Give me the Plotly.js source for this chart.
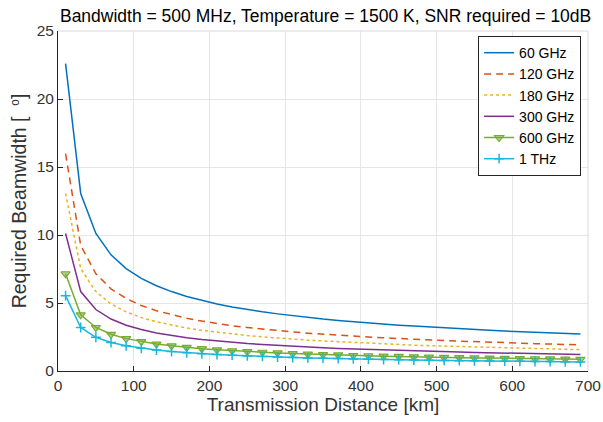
<!DOCTYPE html>
<html>
<head>
<meta charset="utf-8">
<script src="https://cdn.plot.ly/plotly-3.0.1.min.js"></script>
<style>html,body{margin:0;padding:0;background:#fff;}#chart{width:603px;height:422px;}</style>
</head>
<body>
<div id="chart"></div>
<script>
const distanceKm = [10,30,50,70,90,110,130,150,170,190,210,230,250,270,290,310,330,350,370,390,410,430,450,470,490,510,530,550,570,590,610,630,650,670,690];
const seriesNames = ["60 GHz","120 GHz","180 GHz","300 GHz","600 GHz","1 THz"];
const bw60 = [22.60,13.05,10.11,8.54,7.53,6.81,6.27,5.84,5.48,5.18,4.93,4.71,4.52,4.35,4.20,4.06,3.93,3.82,3.72,3.62,3.53,3.45,3.37,3.30,3.23,3.16,3.11,3.05,2.99,2.94,2.89,2.85,2.80,2.76,2.72];
const bw120 = [15.98,9.23,7.15,6.04,5.33,4.82,4.43,4.13,3.88,3.67,3.49,3.33,3.20,3.08,2.97,2.87,2.78,2.70,2.63,2.56,2.50,2.44,2.38,2.33,2.28,2.24,2.20,2.15,2.12,2.08,2.05,2.01,1.98,1.95,1.92];
const bw180 = [13.05,7.53,5.84,4.93,4.35,3.93,3.62,3.37,3.16,2.99,2.85,2.72,2.61,2.51,2.42,2.34,2.27,2.21,2.15,2.09,2.04,1.99,1.95,1.90,1.86,1.83,1.79,1.76,1.73,1.70,1.67,1.64,1.62,1.59,1.57];
const bw300 = [10.11,5.84,4.52,3.82,3.37,3.05,2.80,2.61,2.45,2.32,2.21,2.11,2.02,1.95,1.88,1.82,1.76,1.71,1.66,1.62,1.58,1.54,1.51,1.48,1.44,1.42,1.39,1.36,1.34,1.32,1.29,1.27,1.25,1.24,1.22];
const bw600 = [7.15,4.13,3.20,2.70,2.38,2.16,1.98,1.85,1.73,1.64,1.56,1.49,1.43,1.38,1.33,1.28,1.24,1.21,1.18,1.14,1.12,1.09,1.07,1.04,1.02,1.00,0.98,0.96,0.95,0.93,0.92,0.90,0.89,0.87,0.86];
const bw1000 = [5.54,3.20,2.48,2.09,1.85,1.67,1.54,1.43,1.34,1.27,1.21,1.16,1.11,1.07,1.03,0.99,0.96,0.94,0.91,0.89,0.87,0.84,0.83,0.81,0.79,0.78,0.76,0.75,0.73,0.72,0.71,0.70,0.69,0.68,0.67];
const xTicks = [0,100,200,300,400,500,600,700];
const yTicks = [0,5,10,15,20,25];

const FONT = '"Liberation Sans", Arial, Helvetica, sans-serif';
const traces = [
  {x: distanceKm, y: bw60, name: seriesNames[0], mode: 'lines', line: {color: '#0072BD', width: 1.5}},
  {x: distanceKm, y: bw120, name: seriesNames[1], mode: 'lines', line: {color: '#D95319', width: 1.5, dash: '7px,5px'}},
  {x: distanceKm, y: bw180, name: seriesNames[2], mode: 'lines', line: {color: '#EDB120', width: 1.5, dash: 'dot'}},
  {x: distanceKm, y: bw300, name: seriesNames[3], mode: 'lines', line: {color: '#7E2F8E', width: 1.5}},
  {x: distanceKm, y: bw600, name: seriesNames[4], mode: 'lines+markers', line: {color: '#77AC30', width: 1.5},
   marker: {symbol: 'triangle-down', size: 8, color: 'rgba(119,172,48,0.55)', line: {color: '#77AC30', width: 1.2}}},
  {x: distanceKm, y: bw1000, name: seriesNames[5], mode: 'lines+markers', line: {color: '#17B8DC', width: 1.5},
   marker: {symbol: 'cross-thin', size: 7, line: {color: '#17B8DC', width: 1.5}}}
];

const layout = {
  width: 603, height: 422,
  margin: {l: 58, r: 15, t: 31, b: 51},
  paper_bgcolor: '#fff', plot_bgcolor: '#fff',
  font: {family: FONT, color: '#262626', size: 15.5},
  showlegend: true,
  title: {text: 'Bandwidth = 500 MHz, Temperature = 1500 K, SNR required = 10dB', x: 0.54, xanchor: 'center', y: 0.962, yanchor: 'middle', font: {family: FONT, size: 17.5, color: '#000'}},
  xaxis: {
    range: [0, 700], tickvals: xTicks, ticktext: xTicks.map(String),
    showline: true, linecolor: '#262626', linewidth: 1,
    ticks: 'inside', ticklen: 5, tickcolor: '#262626',
    showgrid: true, gridcolor: '#e6e6e6', zeroline: false,
    tickfont: {size: 15.5, color: '#333333'},
    title: {text: 'Transmission Distance [km]', font: {size: 19, color: '#333333'}, standoff: 2}
  },
  yaxis: {
    range: [0, 25], tickvals: yTicks, ticktext: yTicks.map(String),
    showline: true, linecolor: '#262626', linewidth: 1,
    ticks: 'inside', ticklen: 5, tickcolor: '#262626',
    showgrid: true, gridcolor: '#e6e6e6', zeroline: false,
    tickfont: {size: 15.5, color: '#333333'},
    title: {text: 'Required Beamwidth [  <span style="font-size:17px"><sup>o</sup></span>]', font: {size: 19.5, color: '#333333'}, standoff: 4}
  },
  legend: {
    x: 0.987, xanchor: 'right', y: 0.985, yanchor: 'top',
    bgcolor: '#fff', bordercolor: '#262626', borderwidth: 1,
    font: {size: 14, color: '#000'}, tracegroupgap: 0, itemwidth: 30
  },
  shapes: [
    {type: 'line', xref: 'paper', yref: 'paper', x0: 0, x1: 1, y0: 1, y1: 1, line: {color: '#d9d9d9', width: 1}},
    {type: 'line', xref: 'paper', yref: 'paper', x0: 1, x1: 1, y0: 0, y1: 1, line: {color: '#d9d9d9', width: 1}}
  ]
};

Plotly.newPlot('chart', traces, layout, {displayModeBar: false, staticPlot: true});
</script>
</body>
</html>
